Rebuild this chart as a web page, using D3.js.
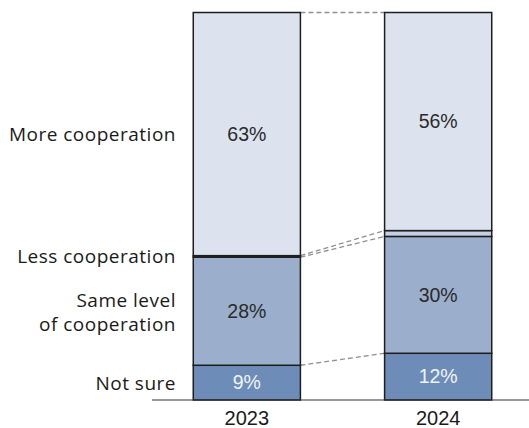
<!DOCTYPE html>
<html>
<head>
<meta charset="utf-8">
<script src="https://cdn.jsdelivr.net/npm/d3@7/dist/d3.min.js"></script>
<style>
  html, body { margin: 0; padding: 0; background: #fff; }
  svg { display: block; }
</style>
</head>
<body>
<svg id="chart" width="529" height="428"></svg>
<script>
// Survey years and answer shares (%), stacked bottom to top
const years = ["2023", "2024"];
const categories = ["Not sure", "Same level of cooperation", "Less cooperation", "More cooperation"];
const notSure = [9, 12];
const sameLevel = [28, 30];
const lessCoop = [0.4, 1.5];
const moreCoop = [63, 56];
const valueLabels = [["9%", "28%", "", "63%"], ["12%", "30%", "", "56%"]];

const keys = ["notSure", "same", "less", "more"];
const fills = { notSure: "#6d8cb7", same: "#9bafcc", less: "#c3cfe2", more: "#dde3ee" };
const textFill = { notSure: "#f0f4fa", same: "#2a2a2a", less: "#2a2a2a", more: "#2a2a2a" };

const rows = years.map((y, i) => ({
  year: y, notSure: notSure[i], same: sameLevel[i], less: lessCoop[i], more: moreCoop[i]
}));

const svg = d3.select("#chart");
const baseY = 400, topY = 12.5;

const x = d3.scaleBand().domain(years).range([155, 530]).paddingInner(0.44).paddingOuter(0.2);
const y = d3.scaleLinear().domain([0, 1]).range([baseY, topY]);

const series = d3.stack().keys(keys).offset(d3.stackOffsetExpand)(rows);

// Dashed connectors between matching segment boundaries
const boundaries = series.map(s => s.map(d => d[1]));
boundaries.forEach(b => {
  svg.append("line")
    .attr("x1", x(years[0]) + x.bandwidth()).attr("y1", y(b[0]))
    .attr("x2", x(years[1])).attr("y2", y(b[1]))
    .attr("stroke", "#919191").attr("stroke-width", 1.3)
    .attr("stroke-dasharray", "5,3");
});

// Stacked segments
const g = svg.append("g");
series.forEach(s => {
  g.selectAll(null).data(s).join("rect")
    .attr("x", d => x(d.data.year))
    .attr("y", d => y(d[1]))
    .attr("width", x.bandwidth())
    .attr("height", d => y(d[0]) - y(d[1]))
    .attr("fill", fills[s.key])
    .attr("stroke", "#1e1e1e").attr("stroke-width", 1.5);
});

// Value labels inside segments
series.forEach((s, si) => {
  g.selectAll(null).data(s).join("text")
    .attr("x", d => x(d.data.year) + x.bandwidth() / 2)
    .attr("y", d => (y(d[0]) + y(d[1])) / 2)
    .attr("dy", "0.35em")
    .attr("text-anchor", "middle")
    .attr("font-family", "'Liberation Sans', Arial, sans-serif")
    .attr("font-size", 19.5)
    .attr("fill", textFill[s.key])
    .text((d, i) => valueLabels[i][si]);
});

// Baseline axis with year labels
const axis = d3.axisBottom(x).tickSize(0).tickPadding(11);
const ax = svg.append("g").attr("transform", `translate(0,${baseY})`).call(axis);
ax.select(".domain").attr("d", "M152,0H529").attr("stroke", "#333").attr("stroke-width", 1.2);
ax.selectAll("text")
  .attr("font-family", "'Liberation Sans', Arial, sans-serif")
  .attr("font-size", 20).attr("fill", "#1a1a1a");

// Category labels on the left, aligned with 2023 segments
const first = series.map(s => s[0]);
const labelX = 176;
const catLines = [["Not sure"], ["Same level", "of cooperation"], ["Less cooperation"], ["More cooperation"]];
const labelY = [
  (y(first[0][0]) + y(first[0][1])) / 2 + 1,
  (y(first[1][0]) + y(first[1][1])) / 2 + 1,
  y(first[2][1]) + 1,
  (y(first[3][0]) + y(first[3][1])) / 2
];
catLines.forEach((lines, i) => {
  const t = svg.append("text")
    .attr("x", labelX)
    .attr("text-anchor", "end")
    .attr("font-family", "'Open Sans', sans-serif")
    .attr("font-size", 19)
    .attr("letter-spacing", 0.5)
    .attr("fill", "#1a1a1a");
  const lh = 23.5;
  lines.forEach((ln, j) => {
    t.append("tspan")
      .attr("x", labelX)
      .attr("y", labelY[i] + (j - (lines.length - 1) / 2) * lh)
      .attr("dy", "0.35em")
      .text(ln);
  });
});
</script>
</body>
</html>
